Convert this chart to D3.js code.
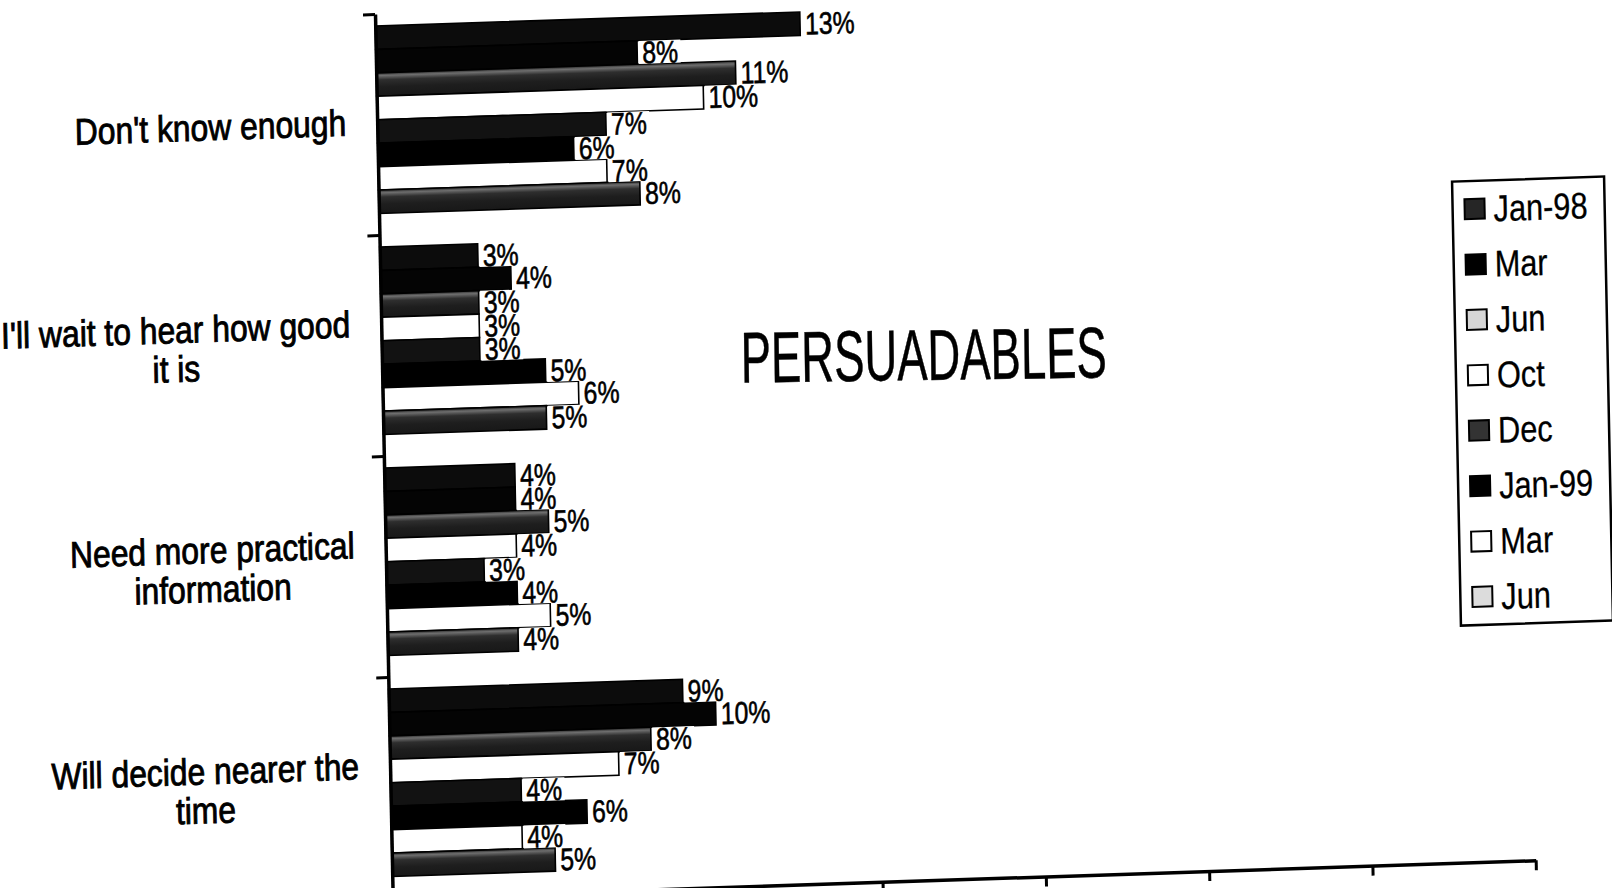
<!DOCTYPE html>
<html><head><meta charset="utf-8">
<script src="https://cdn.jsdelivr.net/npm/d3@7/dist/d3.min.js"></script>
<style>
html,body{margin:0;padding:0;background:#fff;overflow:hidden}
svg{display:block}
</style></head><body>
<svg id="chart" width="1612" height="888"></svg>
<script>
// ---------- data ----------
const categoryLines = [
  ["Don't know enough"],
  ["I'll wait to hear how good", "it is"],
  ["Need more practical", "information"],
  ["Will decide nearer the", "time"]
];
const seriesNames = ["Jan-98", "Mar", "Jun", "Oct", "Dec", "Jan-99", "Mar", "Jun"];
const dontKnowEnough   = [13, 8, 11, 10, 7, 6, 7, 8];
const waitToHear       = [3, 4, 3, 3, 3, 5, 6, 5];
const needPractical    = [4, 4, 5, 4, 3, 4, 5, 4];
const decideNearer     = [9, 10, 8, 7, 4, 6, 4, 5];
const xTickValues      = [0, 5, 10, 15, 20, 25, 30, 35];
const chartTitle = "PERSUADABLES";

const values = [dontKnowEnough, waitToHear, needPractical, decideNearer];

// ---------- styles ----------
const barFills    = ["#0c0c0c", "#040404", "url(#junFill)", "#ffffff", "#121212", "#000000", "#ffffff", "url(#junFill)"];
const swatchFills = ["#262626", "#000000", "#d6d6d6", "#ffffff", "#333333", "#000000", "#ffffff", "#dcdcdc"];
const FONT = "'Liberation Sans',Arial,Helvetica,sans-serif";

// narrow-font emulation: squeeze measured width
function condense(sel, f) {
  const w = sel.node().getComputedTextLength() * f;
  sel.attr("textLength", w).attr("lengthAdjust", "spacingAndGlyphs");
  return w;
}

const svg = d3.select("#chart");
const defs = svg.append("defs");
const grad = defs.append("linearGradient").attr("id", "junFill")
  .attr("x1", 0).attr("y1", 0).attr("x2", 0).attr("y2", 1);
[[0, "#2a2a2a"], [0.12, "#6e6e6e"], [0.3, "#2e2e2e"], [0.6, "#1e1e1e"], [1, "#181818"]]
  .forEach(([o, c]) => grad.append("stop").attr("offset", o).attr("stop-color", c));

// page is a slightly skewed scan
const axisX = 375, plotTop = 14, bandStep = 221;
const skewH = -0.033, skewV = 0.02;
const g = svg.append("g")
  .attr("transform", `matrix(1,${skewH},${skewV},1,${-skewV * plotTop},${-skewH * axisX})`);

// ---------- scales ----------
const x = d3.scaleLinear().domain([0, 35]).range([axisX, axisX + 1143]);
const plotBottom = plotTop + bandStep * categoryLines.length;
const y = d3.scaleBand().domain(d3.range(categoryLines.length)).range([plotTop, plotBottom]);
const yInner = d3.scaleBand().domain(d3.range(seriesNames.length)).range([12, 12 + 187.5]);
const yEdge = d3.scaleLinear().domain([0, categoryLines.length]).range([plotTop, plotBottom]);

// ---------- bars ----------
const flat = [];
values.forEach((arr, ci) => arr.forEach((v, si) => flat.push({ ci, si, v })));

g.append("g").selectAll("rect").data(flat).join("rect")
  .attr("x", x(0))
  .attr("y", d => y(d.ci) + yInner(d.si))
  .attr("width", d => x(d.v) - x(0))
  .attr("height", yInner.bandwidth())
  .attr("fill", d => barFills[d.si])
  .attr("stroke", "#000").attr("stroke-width", 1.6);

// ---------- data labels ----------
const labG = g.append("g");
flat.forEach(d => {
  const cy = y(d.ci) + yInner(d.si) + yInner.bandwidth() / 2;
  const lg = labG.append("g");
  const r = lg.append("rect").attr("fill", "#fff");
  const t = lg.append("text")
    .attr("x", x(d.v) + 5).attr("y", cy + 11)
    .attr("font-family", FONT).attr("font-size", 31)
    .attr("fill", "#000").attr("stroke", "#000").attr("stroke-width", 0.6)
    .text(d.v + "%");
  const w = condense(t, 0.8);
  r.attr("x", x(d.v) + 1.5).attr("y", cy - 11.5).attr("width", w + 6).attr("height", 23);
});

// ---------- axes ----------
const yAxis = g.append("g").attr("transform", `translate(${axisX},0)`)
  .call(d3.axisLeft(yEdge).ticks(categoryLines.length).tickSize(12).tickSizeOuter(0).tickFormat(""));
yAxis.select(".domain").attr("stroke", "#000").attr("stroke-width", 3.5);
yAxis.selectAll(".tick line").attr("stroke", "#000").attr("stroke-width", 3);

const xAxis = g.append("g").attr("transform", `translate(0,${plotBottom})`)
  .call(d3.axisBottom(x).tickValues(xTickValues).tickSize(10).tickSizeOuter(0).tickFormat(""));
xAxis.select(".domain").attr("stroke", "#000").attr("stroke-width", 3.5);
xAxis.selectAll(".tick line").attr("stroke", "#000").attr("stroke-width", 3);

// ---------- category labels ----------
const labelRight = axisX - 31, lineH = 39;
categoryLines.forEach((lines, ci) => {
  const cg = g.append("g");
  const cy = y(ci) + yInner(0) + 187.5 / 2;
  const texts = lines.map((ln, li) => cg.append("text")
    .attr("y", cy + 15 - (lines.length - 1) * lineH / 2 + li * lineH)
    .attr("text-anchor", "middle")
    .attr("font-family", FONT).attr("font-size", 37)
    .attr("fill", "#000").attr("stroke", "#000").attr("stroke-width", 0.9)
    .text(ln));
  const widths = texts.map(t => condense(t, 0.86));
  const maxW = d3.max(widths);
  texts.forEach(t => t.attr("x", labelRight - maxW / 2));
});

// ---------- legend ----------
const leg = g.append("g").attr("transform", "translate(1448,217)");
leg.append("rect").attr("width", 152).attr("height", 444)
  .attr("fill", "#fff").attr("stroke", "#000").attr("stroke-width", 2.5);
const rowY = d3.scaleLinear().domain([0, 1]).range([28, 28 + 55.4]);
seriesNames.forEach((name, i) => {
  const ry = rowY(i);
  leg.append("rect").attr("x", 12).attr("y", ry - 10).attr("width", 20).attr("height", 20)
    .attr("fill", swatchFills[i]).attr("stroke", "#000").attr("stroke-width", 2);
  const t = leg.append("text").attr("x", 41).attr("y", ry + 13)
    .attr("font-family", FONT).attr("font-size", 37)
    .attr("fill", "#000").attr("stroke", "#000").attr("stroke-width", 0.3)
    .text(name);
  condense(t, 0.83);
});

// ---------- title ----------
svg.append("text")
  .attr("x", 924).attr("y", 380)
  .attr("transform", "rotate(-0.8 924 380)")
  .attr("text-anchor", "middle")
  .attr("font-family", FONT).attr("font-size", 72)
  .attr("textLength", 366).attr("lengthAdjust", "spacingAndGlyphs")
  .attr("fill", "#000").attr("stroke", "#000").attr("stroke-width", 0.5)
  .text(chartTitle);
</script>
</body></html>
